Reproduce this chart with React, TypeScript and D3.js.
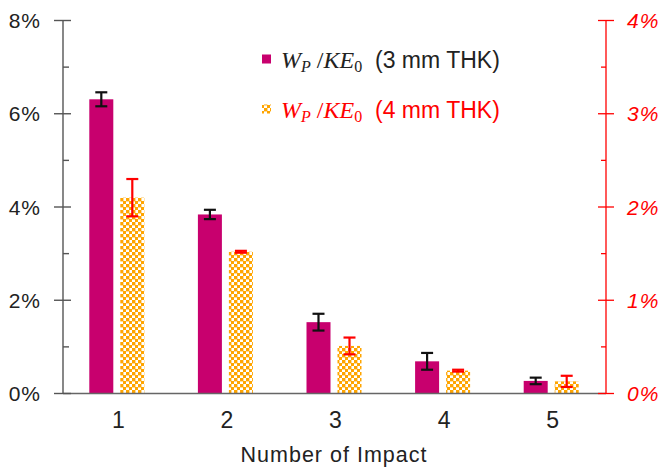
import {useEffect, useRef} from "react";
import * as d3 from "d3";

const impacts = ["1", "2", "3", "4", "5"];
// W_P/KE_0, 3 mm THK (left axis, %)
const thk3 = [6.31, 3.84, 1.53, 0.69, 0.27];
const thk3Err = [0.15, 0.1, 0.18, 0.18, 0.07];
// W_P/KE_0, 4 mm THK (right axis, %)
const thk4 = [2.1, 1.52, 0.51, 0.245, 0.13];
const thk4Err = [0.2, 0.01, 0.09, 0.01, 0.06];
const leftTicks = [0, 2, 4, 6, 8];
const rightTicks = [0, 1, 2, 3, 4];

const W = 662;
const H = 469;

const App = () => {
	const svgRef = useRef<SVGSVGElement | null>(null);

	useEffect(() => {
		document.body.style.margin = "0";
		const left = 63;
		const right = 606;
		const top = 20.5;
		const bottom = 393.5;

		const svg = d3.select(svgRef.current).attr("width", W).attr("height", H);
		svg.selectAll("*").remove();

		const defs = svg.append("defs");
		const pat = defs
			.append("pattern")
			.attr("id", "checker")
			.attr("patternUnits", "userSpaceOnUse")
			.attr("width", 6)
			.attr("height", 6);
		pat.append("rect").attr("width", 6).attr("height", 6).attr("fill", "#fff");
		pat.append("rect").attr("x", 0).attr("y", 0).attr("width", 3.4).attr("height", 3.4).attr("fill", "#FFA500");
		pat.append("rect").attr("x", 3).attr("y", 3).attr("width", 3.4).attr("height", 3.4).attr("fill", "#FFA500");

		const x = d3.scaleBand().domain(impacts).range([left, right]);
		const yL = d3.scaleLinear().domain([0, 8]).range([bottom, top]);
		const yR = d3.scaleLinear().domain([0, 4]).range([bottom, top]);

		const font = "'Liberation Sans', Arial, sans-serif";
		const center = (d: string) => (x(d) as number) + x.bandwidth() / 2;
		const barW = 24;

		// bars, 3 mm
		svg.append("g")
			.selectAll("rect")
			.data(impacts)
			.join("rect")
			.attr("x", (d) => center(d) - 28)
			.attr("y", (d, i) => yL(thk3[i]))
			.attr("width", barW)
			.attr("height", (d, i) => bottom - yL(thk3[i]))
			.attr("fill", "#C8006E");

		// bars, 4 mm
		svg.append("g")
			.selectAll("rect")
			.data(impacts)
			.join("rect")
			.attr("x", (d) => center(d) + 3)
			.attr("y", (d, i) => yR(thk4[i]))
			.attr("width", barW)
			.attr("height", (d, i) => bottom - yR(thk4[i]))
			.attr("fill", "url(#checker)");

		// error bars
		const errBars = (vals: number[], errs: number[], y: any, dx: number, color: string) => {
			const g = svg.append("g").attr("stroke", color).attr("stroke-width", 2.2);
			impacts.forEach((d, i) => {
				const cx = center(d) + dx;
				const y1 = y(vals[i] + errs[i]);
				const y2 = y(vals[i] - errs[i]);
				g.append("line").attr("x1", cx).attr("x2", cx).attr("y1", y1).attr("y2", y2);
				g.append("line").attr("x1", cx - 6).attr("x2", cx + 6).attr("y1", y1).attr("y2", y1);
				g.append("line").attr("x1", cx - 6).attr("x2", cx + 6).attr("y1", y2).attr("y2", y2);
			});
		};
		errBars(thk3, thk3Err, yL, -16, "#111");
		errBars(thk4, thk4Err, yR, 15, "#FF0000");

		// bottom axis line
		svg.append("line")
			.attr("x1", left).attr("x2", right)
			.attr("y1", bottom).attr("y2", bottom)
			.attr("stroke", "#666").attr("stroke-width", 1.4);

		// left axis
		const gl = svg.append("g").attr("stroke", "#555").attr("stroke-width", 1.4);
		gl.append("line").attr("x1", left).attr("x2", left).attr("y1", top).attr("y2", bottom);
		d3.range(0, 9).forEach((v) => {
			const major = v % 2 === 0;
			gl.append("line")
				.attr("x1", major ? left - 9 : left)
				.attr("x2", major ? left + 8 : left + 6)
				.attr("y1", yL(v)).attr("y2", yL(v));
		});
		svg.append("g")
			.selectAll("text")
			.data(leftTicks)
			.join("text")
			.attr("x", 41)
			.attr("y", (d) => yL(d))
			.attr("dy", "0.36em")
			.attr("text-anchor", "end")
			.attr("font-family", font)
			.attr("font-size", 21)
			.attr("letter-spacing", 1)
			.attr("fill", "#222")
			.text((d) => `${d}%`);

		// right axis
		const gr = svg.append("g").attr("stroke", "#FF0000").attr("stroke-width", 1.3);
		gr.append("line").attr("x1", right).attr("x2", right).attr("y1", top).attr("y2", bottom);
		d3.range(0, 4.5, 0.5).forEach((v) => {
			const major = v % 1 === 0;
			gr.append("line")
				.attr("x1", major ? right - 8 : right - 5)
				.attr("x2", major ? right + 8 : right)
				.attr("y1", yR(v)).attr("y2", yR(v));
		});
		svg.append("g")
			.selectAll("text")
			.data(rightTicks)
			.join("text")
			.attr("x", 627)
			.attr("y", (d) => yR(d))
			.attr("dy", "0.36em")
			.attr("font-family", font)
			.attr("font-style", "italic")
			.attr("font-size", 21)
			.attr("letter-spacing", 1)
			.attr("fill", "#FF0000")
			.text((d) => `${d}%`);

		// category labels
		svg.append("g")
			.selectAll("text")
			.data(impacts)
			.join("text")
			.attr("x", (d) => center(d) + 1)
			.attr("y", 428)
			.attr("text-anchor", "middle")
			.attr("font-family", font)
			.attr("font-size", 23)
			.attr("fill", "#222")
			.text((d) => d);

		svg.append("text")
			.attr("x", 334)
			.attr("y", 462)
			.attr("text-anchor", "middle")
			.attr("font-family", font)
			.attr("font-size", 21.5)
			.attr("letter-spacing", 1)
			.attr("fill", "#222")
			.text("Number of Impact");

		// legend
		const serif = "'Liberation Serif', 'DejaVu Serif', serif";
		const legend = [
			{fill: "#C8006E", color: "#222", label: "(3 mm THK)", y: 67.5},
			{fill: "url(#checker)", color: "#FF0000", label: "(4 mm THK)", y: 117.5},
		];
		legend.forEach((l) => {
			svg.append("rect")
				.attr("x", 262).attr("y", l.y - 13)
				.attr("width", 9).attr("height", 9)
				.attr("fill", l.fill);
			const t = svg.append("text")
				.attr("x", 281).attr("y", l.y)
				.attr("fill", l.color)
				.attr("font-size", 24);
			t.append("tspan").attr("font-family", serif).attr("font-style", "italic").text("W");
			t.append("tspan").attr("font-family", serif).attr("font-style", "italic")
				.attr("font-size", 16).attr("dy", 4).text("P");
			t.append("tspan").attr("font-family", serif).attr("dy", -4).text(" /");
			t.append("tspan").attr("font-family", serif).attr("font-style", "italic").text("KE");
			t.append("tspan").attr("font-family", serif).attr("font-size", 16).attr("dy", 4).text("0");
			t.append("tspan")
				.attr("x", 375)
				.attr("dy", -4)
				.attr("font-family", font)
				.attr("font-size", 23)
				.text(l.label);
		});
	}, []);

	return <svg ref={svgRef} style={{display: "block"}}></svg>;
};

export default App;
